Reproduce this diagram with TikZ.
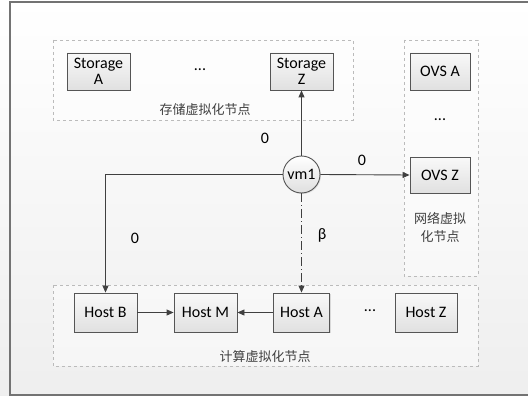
\documentclass[tikz,border=0pt]{standalone}
\usepackage{fontspec}
\setmainfont{Carlito}
\newfontfamily\cjk{Noto Sans CJK SC}
\usetikzlibrary{arrows.meta,shadows}
\definecolor{boxline}{HTML}{555555}
\definecolor{arr}{HTML}{404040}
\definecolor{grpline}{HTML}{BBBBBB}
\begin{document}
\begin{tikzpicture}[x=1pt,y=-1pt,
  hbox/.style={draw=boxline,line width=0.9pt,top color=white!95!gray,bottom color=gray!24,
    minimum width=63pt,minimum height=37pt,inner sep=1pt,align=center,font=\fontsize{16}{16.5}\selectfont,
    drop shadow={shadow xshift=1.2pt,shadow yshift=-1.2pt,opacity=0.25}},
  grp/.style={draw=grpline,dashed,line width=0.7pt,fill=white,fill opacity=0.45},
  conn/.style={draw=arr,line width=0.9pt,-{Triangle[length=7pt,width=6pt]}},
  lbl/.style={font=\fontsize{16}{16}\selectfont},
  cn/.style={font=\cjk\fontsize{13}{18}\selectfont,text=black!75,align=center}]
\useasboundingbox (0,0) rectangle (528,396);
\shade[top color=white,bottom color=gray!13] (0,0) rectangle (528,396);
\draw[gray!90!black,line width=1.3pt] (10,2) rectangle (540,395);
% groups
\path[grp] (53,40) rectangle (353,120);
\path[grp] (404,40) rectangle (478,276);
\path[grp] (53,285) rectangle (478,366);
% nodes
\node[hbox] (sA) at (98.5,71.5) {Storage\\A};
\node[hbox] (sZ) at (301.5,71.5) {Storage\\Z};
\node[hbox,minimum width=60pt] (ovsA) at (440,71.5) {OVS A};
\node[hbox,minimum width=60pt,minimum height=36pt] (ovsZ) at (440,175) {OVS Z};
\node[circle,draw=boxline,line width=0.9pt,top color=white,bottom color=gray!25,minimum size=37pt,inner sep=0pt,
  font=\fontsize{16}{16}\selectfont,drop shadow={shadow xshift=1pt,shadow yshift=-1pt,opacity=0.2}] (vm) at (301.5,174.5) {vm1};
\node[hbox,minimum height=39pt] (hB) at (105.5,312.5) {Host B};
\node[hbox,minimum height=39pt] (hM) at (205.5,312.5) {Host M};
\node[hbox,minimum height=39pt,minimum width=56pt] (hA) at (301.5,312.5) {Host A};
\node[hbox,minimum height=39pt,minimum width=62pt] (hZ) at (426,312.5) {Host Z};
% dots
\node[lbl] (d1) at (200,70) {...};
\node[lbl] (d2) at (440,120) {...};
\node[lbl] (d3) at (370,311) {...};
% group labels
\node[cn] (g1) at (205,110) {存储虚拟化节点};
\node[cn] (g2) at (440,227.5) {网络虚拟\\化节点};
\node[cn] (g3) at (265,357) {计算虚拟化节点};
% connectors
\draw[conn] (vm.north) -- (sZ.south);
\draw[conn] (vm.east) -- (ovsZ.west);
\draw[conn] (vm.west) -| (hB.north);
\draw[conn,dash pattern=on 9pt off 3pt on 1pt off 3pt] (vm.south) -- (hA.north);
\draw[conn] (hB.east) -- (hM.west);
\draw[conn] (hA.west) -- (hM.east);
% labels
\node[lbl] (l1) at (265,138) {0};
\node[lbl] (l2) at (362,160) {0};
\node[lbl] (l3) at (135,238) {0};
\node[lbl] (l4) at (322,235) {β};
\end{tikzpicture}
\end{document}
